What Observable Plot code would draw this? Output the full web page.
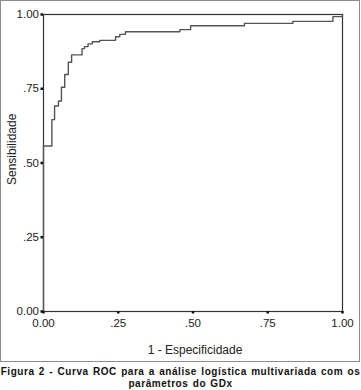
<!DOCTYPE html>
<html>
<head>
<meta charset="utf-8">
<script src="https://cdn.jsdelivr.net/npm/d3@7"></script>
<script src="https://cdn.jsdelivr.net/npm/@observablehq/plot@0.6"></script>
<style>
  html, body { margin: 0; padding: 0; background: #fff; }
  body { width: 361px; height: 390px; overflow: hidden; font-family: "Liberation Sans", Arial, sans-serif; }
  #box { position: absolute; left: 0; top: 0; width: 358px; height: 360px; border: 1px solid #8c8c8c; }
  #box svg { display: block; }
  #cap { position: absolute; left: 0; top: 366px; width: 361px; text-align: center; font: bold 10px "Liberation Sans", Arial, sans-serif; line-height: 12px; color: #111; letter-spacing: 0.55px; word-spacing: 1px; white-space: nowrap; }
</style>
</head>
<body>
<div id="box"></div>
<div id="cap"></div>
<script>
// ROC curve points (1 - especificidade, sensibilidade)
const fpr = [0, 0, 0.028, 0.037, 0.050, 0.060, 0.071, 0.083, 0.094, 0.129, 0.137, 0.149, 0.163, 0.188, 0.241, 0.255, 0.274, 0.456, 0.492, 0.672, 0.834, 0.968, 1.0];
const tpr = [0, 0.557, 0.646, 0.692, 0.709, 0.755, 0.798, 0.839, 0.864, 0.885, 0.892, 0.901, 0.908, 0.913, 0.925, 0.933, 0.942, 0.949, 0.962, 0.970, 0.977, 0.993, 1.0];
const ticks = [0, 0.25, 0.5, 0.75, 1];
const xTickLabels = ["0.00", ".25", ".50", ".75", "1.00"];
const yTickLabels = ["0.00", ".25", ".50", ".75", "1.00"];
const xTitle = "1 - Especificidade";
const yTitle = "Sensibilidade";
const captionLines = ["Figura 2 - Curva ROC para a análise logística multivariada com os", "parâmetros do GDx"];

const data = fpr.map((x, i) => ({x, y: tpr[i]}));

const chart = Plot.plot({
  width: 358,
  height: 360,
  marginLeft: 42,
  marginRight: 17,
  marginTop: 13,
  marginBottom: 50,
  style: {fontFamily: "'Liberation Sans', Arial, sans-serif", fontSize: "11.5px", color: "#222", background: "#fff"},
  x: {domain: [0, 1]},
  y: {domain: [0, 1]},
  marks: [
    Plot.frame({stroke: "#333", strokeWidth: 1.2}),
    Plot.line(data, {x: "x", y: "y", curve: "step-after", stroke: "#555", strokeWidth: 1.4}),
    Plot.axisX({ticks, tickFormat: (d, i) => xTickLabels[i], tickSize: 2.5, strokeWidth: 2.5, stroke: "#111", tickPadding: 5, label: null, fill: "#222"}),
    Plot.axisY({ticks, tickFormat: (d, i) => yTickLabels[i], tickSize: 2.5, strokeWidth: 2.5, stroke: "#111", tickPadding: 2, label: null, fill: "#222"}),
    Plot.text([xTitle], {frameAnchor: "bottom", dx: 2, dy: 39, lineAnchor: "middle", fontSize: 12, fill: "#222"}),
    Plot.text([yTitle], {frameAnchor: "left", rotate: -90, dx: -31, dy: 22, lineAnchor: "middle", fontSize: 12, fill: "#222"})
  ]
});
document.getElementById("box").appendChild(chart);
document.getElementById("cap").innerHTML = captionLines.map(s => `<div>${s}</div>`).join("");
</script>
</body>
</html>
